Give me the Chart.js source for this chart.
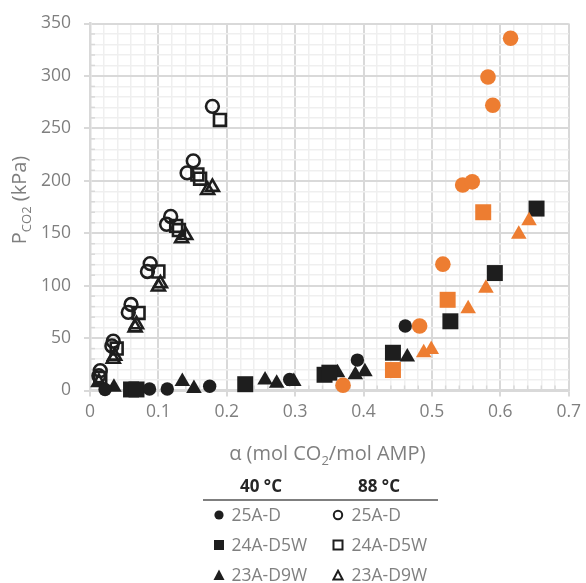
<!DOCTYPE html>
<html><head><meta charset="utf-8">
<script src="https://cdn.jsdelivr.net/npm/chart.js@4"></script>
<style>
html,body{margin:0;padding:0;background:#fff;}
#wrap{position:relative;width:586px;height:583px;overflow:hidden;font-family:'Open Sans',sans-serif;}
#c{position:absolute;left:0;top:0;}
.hdr{position:absolute;font-weight:bold;font-size:17px;color:#262626;transform:translate(-50%,-50%);white-space:nowrap;line-height:1;}
.rule{position:absolute;left:203px;top:499px;width:235px;height:2px;background:#7f7f7f;}
.item{position:absolute;font-size:17.5px;color:#808080;white-space:nowrap;transform:translateY(-50%);line-height:1;}
.mk{position:absolute;transform:translate(-50%,-50%);line-height:0;}
</style></head>
<body><div id="wrap"><canvas id="c" width="586" height="583"></canvas><div id="legend"></div></div>
<script>
// ---- data ----
const temps = ['40 °C', '88 °C'];
const names = ['25A-D', '24A-D5W', '23A-D9W'];

// 40 °C (filled black)
const a40_25AD = [0.022, 0.087, 0.113, 0.175, 0.292, 0.391, 0.461];
const p40_25AD = [1, 1.5, 1.5, 4, 10.5, 29, 61.5];
const a40_24AD5W = [0.060, 0.068, 0.227, 0.343, 0.350, 0.443, 0.527, 0.592, 0.653];
const p40_24AD5W = [1, 1, 6, 15, 17, 36, 66, 112, 173.5];
const a40_23AD9W = [0.035, 0.135, 0.152, 0.256, 0.273, 0.298, 0.362, 0.388, 0.402, 0.464];
const p40_23AD9W = [3, 8.5, 2, 10, 7, 8.5, 17, 15, 18, 32];

// 88 °C (hollow black)
const a88_25AD = [0.015, 0.013, 0.034, 0.032, 0.060, 0.056, 0.088, 0.084, 0.118, 0.112, 0.151, 0.142, 0.179];
const p88_25AD = [19, 14, 47, 42.5, 82, 74.5, 121, 113.5, 166, 158.5, 219, 207.5, 271];
const a88_24AD5W = [0.015, 0.039, 0.071, 0.100, 0.126, 0.130, 0.157, 0.161, 0.190];
const p88_24AD5W = [12, 40, 74, 113.5, 157, 153, 206, 202, 258];
const a88_23AD9W = [0.013, 0.034, 0.036, 0.066, 0.068, 0.100, 0.103, 0.134, 0.140, 0.172, 0.179];
const p88_23AD9W = [8, 30, 33, 60, 63, 99, 102, 145, 148, 191, 194];

// orange series (not listed in the legend)
const aOr_25AD = [0.370, 0.482, 0.516, 0.545, 0.559, 0.589, 0.582, 0.615];
const pOr_25AD = [5, 61.5, 120.5, 196, 199, 272, 299, 336];
const aOr_24AD5W = [0.443, 0.523, 0.575];
const pOr_24AD5W = [19.5, 86.5, 170];
const aOr_23AD9W = [0.488, 0.499, 0.553, 0.579, 0.627, 0.642];
const pOr_23AD9W = [36, 39, 78, 97.5, 149, 162];

// axes
const xMin = 0, xMax = 0.7, xMinor = 0.02, xMajor = 0.1;
const yMin = 0, yMax = 350, yMinor = 10, yMajor = 50;
const xTitle = [['α (mol CO', 0], ['2', 1], ['/mol AMP)', 0]];
const yTitle = [['P', 0], ['CO2', 1], [' (kPa)', 0]];

// ---- styling ----
const BLACK = '#1e1e1e', ORANGE = '#ed7d31';
const FONT = "'Open Sans', sans-serif";
const pts = (a, p) => a.map((v, i) => ({x: v, y: p[i]}));
function isMajor(v, step) { const r = v / step; return Math.abs(r - Math.round(r)) < 1e-6; }

function ds(label, a, p, style, color, hollow, radius) {
  return {
    label, data: pts(a, p), pointStyle: style, pointRadius: radius, pointHoverRadius: radius,
    backgroundColor: hollow ? 'rgba(0,0,0,0)' : color, borderColor: color,
    borderWidth: hollow ? 2.6 : 0, showLine: false, clip: false
  };
}

const datasets = [
  ds('25A-D (orange)', aOr_25AD, pOr_25AD, 'circle', ORANGE, false, 7.8),
  ds('24A-D5W (orange)', aOr_24AD5W, pOr_24AD5W, 'rect', ORANGE, false, 11.3),
  ds('23A-D9W (orange)', aOr_23AD9W, pOr_23AD9W, 'triangle', ORANGE, false, 9),
  ds('25A-D 40 °C', a40_25AD, p40_25AD, 'circle', BLACK, false, 6.7),
  ds('24A-D5W 40 °C', a40_24AD5W, p40_24AD5W, 'rect', BLACK, false, 11.3),
  ds('23A-D9W 40 °C', a40_23AD9W, p40_23AD9W, 'triangle', BLACK, false, 9),
  ds('25A-D 88 °C', a88_25AD, p88_25AD, 'circle', BLACK, true, 6.4),
  ds('24A-D5W 88 °C', a88_24AD5W, p88_24AD5W, 'rect', BLACK, true, 8.4),
  ds('23A-D9W 88 °C', a88_23AD9W, p88_23AD9W, 'triangle', BLACK, true, 7.5)
];

const minorTicks = {
  id: 'minorTicks',
  beforeDatasetsDraw(chart) {
    const {ctx, chartArea: a, scales: {x, y}} = chart;
    ctx.save();
    ctx.strokeStyle = '#d9d9d9'; ctx.lineWidth = 1.5;
    x.ticks.forEach(t => {
      if (isMajor(t.value, xMajor)) return;
      const px = x.getPixelForValue(t.value);
      ctx.beginPath(); ctx.moveTo(px, a.bottom); ctx.lineTo(px, a.bottom - 5); ctx.stroke();
    });
    y.ticks.forEach(t => {
      if (isMajor(t.value, yMajor)) return;
      const py = y.getPixelForValue(t.value);
      ctx.beginPath(); ctx.moveTo(a.left, py); ctx.lineTo(a.left + 5, py); ctx.stroke();
    });
    ctx.restore();
  }
};

function drawRich(ctx, parts, cx, by) {
  const big = '20px ' + FONT, small = '13px ' + FONT;
  let total = 0;
  parts.forEach(([t, s]) => { ctx.font = s ? small : big; total += ctx.measureText(t).width; });
  let x = cx - total / 2;
  ctx.textAlign = 'left'; ctx.textBaseline = 'alphabetic';
  parts.forEach(([t, s]) => {
    ctx.font = s ? small : big;
    ctx.fillText(t, x, by + (s ? 5 : 0));
    x += ctx.measureText(t).width;
  });
}

const axisTitles = {
  id: 'axisTitles',
  afterDraw(chart) {
    const {ctx, chartArea: a} = chart;
    ctx.save();
    ctx.fillStyle = '#7f7f7f';
    drawRich(ctx, xTitle, (a.left + a.right) / 2 - 2, 460);
    ctx.translate(26, (a.top + a.bottom) / 2 - 7);
    ctx.rotate(-Math.PI / 2);
    drawRich(ctx, yTitle, 0, 0);
    ctx.restore();
  }
};

const fmt = v => String(Math.round(v * 100) / 100);

new Chart(document.getElementById('c'), {
  type: 'scatter',
  data: {datasets},
  options: {
    responsive: false, animation: false,
    layout: {padding: {top: 21, right: 13, bottom: 152.5, left: 0}},
    plugins: {legend: {display: false}, tooltip: {enabled: false}},
    scales: {
      x: {
        type: 'linear', min: xMin, max: xMax,
        afterFit(s) { s.height = 40; },
        ticks: {
          stepSize: xMinor, autoSkip: false, maxRotation: 0, minRotation: 0,
          color: '#7f7f7f', font: {family: FONT, size: 17.5}, padding: 5,
          callback: v => isMajor(v, xMajor) ? fmt(v) : ''
        },
        grid: {
          color: c => isMajor(c.tick.value, xMajor) ? '#d9d9d9' : '#efefef',
          lineWidth: c => isMajor(c.tick.value, xMajor) ? 2 : 1.5,
          tickColor: c => isMajor(c.tick.value, xMajor) ? '#d9d9d9' : 'rgba(0,0,0,0)',
          tickLength: 6, tickWidth: 2
        },
        border: {color: '#d9d9d9', width: 2.5}
      },
      y: {
        type: 'linear', min: yMin, max: yMax,
        afterFit(s) { s.width = 90; },
        ticks: {
          stepSize: yMinor, autoSkip: false,
          color: '#7f7f7f', font: {family: FONT, size: 17.5}, padding: 13,
          callback: v => isMajor(v, yMajor) ? fmt(v) : ''
        },
        grid: {
          color: c => isMajor(c.tick.value, yMajor) ? '#d9d9d9' : '#efefef',
          lineWidth: c => isMajor(c.tick.value, yMajor) ? 2 : 1.5,
          tickColor: c => isMajor(c.tick.value, yMajor) ? '#d9d9d9' : 'rgba(0,0,0,0)',
          tickLength: 6, tickWidth: 2
        },
        border: {color: '#d9d9d9', width: 2.5}
      }
    }
  },
  plugins: [minorTicks, axisTitles]
});

// ---- legend (HTML table-like layout) ----
const legend = document.getElementById('legend');
const colX = [219, 338], textX = [231.5, 351.5], hdrX = [261, 379], rowY = [515, 545, 575];
function svgMarker(kind, hollow) {
  const f = hollow ? 'none' : BLACK, s = hollow ? BLACK : 'none', w = hollow ? 2 : 0;
  let shape;
  if (kind === 0) shape = `<circle cx="6" cy="6" r="${hollow ? 4.2 : 4.6}" fill="${f}" stroke="${s}" stroke-width="${w}"/>`;
  else if (kind === 1) shape = hollow ? `<rect x="1.5" y="1.5" width="9" height="9" fill="none" stroke="${BLACK}" stroke-width="2"/>` : `<rect x="1" y="1" width="10" height="10" fill="${BLACK}"/>`;
  else shape = hollow ? `<polygon points="6,1.8 10.6,10.6 1.4,10.6" fill="none" stroke="${BLACK}" stroke-width="2" stroke-linejoin="miter"/>` : `<polygon points="6,0.5 11.5,11 0.5,11" fill="${BLACK}"/>`;
  return `<svg width="12" height="12" viewBox="0 0 12 12">${shape}</svg>`;
}
let html = '';
temps.forEach((t, c) => { html += `<div class="hdr" style="left:${hdrX[c]}px;top:485px">${t}</div>`; });
html += '<div class="rule"></div>';
names.forEach((n, r) => {
  temps.forEach((t, c) => {
    html += `<div class="mk" style="left:${colX[c]}px;top:${rowY[r]}px">${svgMarker(r, c === 1)}</div>`;
    html += `<div class="item" style="left:${textX[c]}px;top:${rowY[r]}px">${n}</div>`;
  });
});
legend.innerHTML = html;
</script>
</body></html>
